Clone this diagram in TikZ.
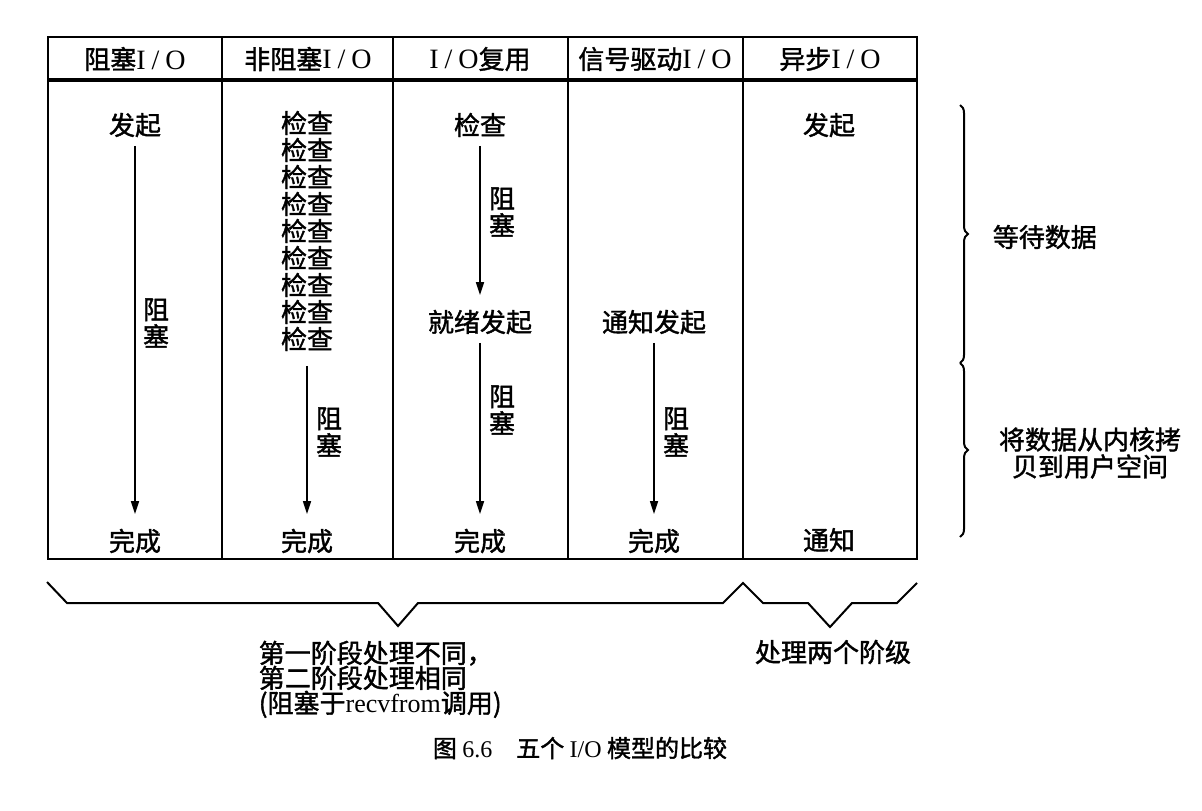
\documentclass[tikz,border=0pt]{standalone}
\usepackage{fontspec}
\setmainfont{Liberation Serif}
\newfontfamily\cjk{Noto Sans CJK SC}[FakeBold=1.5]
\usetikzlibrary{arrows.meta, decorations.pathreplacing}
\newcommand{\iox}{{\rmfamily\fontsize{14}{14}\selectfont I\hspace{3pt}/\hspace{3pt}O}}

\begin{document}
\begin{tikzpicture}[x=0.5pt, y=-0.5pt, >={Stealth[length=6.5pt, width=4pt, inset=0pt]}, line width=0.8pt,
    every node/.style={font=\cjk\fontsize{13}{13.5}\selectfont, inner sep=1pt, align=center},
    blk/.style={->, shorten <=3pt, shorten >=6pt}]
    \useasboundingbox (0,0) rectangle (1202,810);
    % 表格：外框、表头粗线、列分隔线
    \draw[line width=1pt] (48,37) rectangle (917,559);
    \draw[line width=2pt] (48,80) -- (917,80);
    \foreach \x in {222,393,568,743}
        \draw (\x,37) -- (\x,559);

    % 表头
    \node (h1) at (135,59) {阻塞\iox};
    \node (h2) at (308,59) {非阻塞\iox};
    \node (h3) at (480,59) {\iox 复用};
    \node (h4) at (655,59) {信号驱动\iox};
    \node (h5) at (830,59) {异步\iox};

    % 阻塞I/O
    \node (b1) at (135,125) {发起};
    \node (b2) at (135,541) {完成};
    \node (bz) at (156,323) {阻\\塞};
    \draw[blk] (b1) -- (b2);

    % 非阻塞I/O
    \node (n1) at (307,231) {检查\\检查\\检查\\检查\\检查\\检查\\检查\\检查\\检查};
    \node (n2) at (307,541) {完成};
    \node (nz) at (329,432) {阻\\塞};
    \draw[blk, shorten <=6pt] (n1) -- (n2);

    % I/O复用
    \node (m1) at (480,125) {检查};
    \node (m2) at (480,322) {就绪发起};
    \node (m3) at (480,541) {完成};
    \node (mz1) at (502,212) {阻\\塞};
    \node (mz2) at (502,410) {阻\\塞};
    \draw[blk] (m1) -- (m2);
    \draw[blk] (m2) -- (m3);

    % 信号驱动I/O
    \node (s1) at (654,322) {通知发起};
    \node (s2) at (654,541) {完成};
    \node (sz) at (676,432) {阻\\塞};
    \draw[blk] (s1) -- (s2);

    % 异步I/O
    \node (a1) at (829,125) {发起};
    \node (a2) at (829,540) {通知};

    % 右侧大括号
    \draw[line width=1pt, decorate, decoration={brace, amplitude=4pt}] (960,105) -- (960,363);
    \draw[line width=1pt, decorate, decoration={brace, amplitude=4pt}] (960,363) -- (960,537);
    \node[anchor=west] (r1) at (990,237) {等待数据};
    \node (r2) at (1090,453) {将数据从内核拷\\贝到用户空间};

    % 下方折线括号
    \draw[line width=1pt] (47,582) -- (67,603) -- (378,603) -- (398,626) -- (418,603) -- (723,603)
        -- (743,583) -- (763,603) -- (808,603) -- (830,627) -- (852,603) -- (897,603) -- (917,583);
    \node[anchor=north west, align=left, font=\cjk\fontsize{13}{12.5}\selectfont] (d1) at (256,638)
        {第一阶段处理不同，\\第二阶段处理相同\\(阻塞于{\rmfamily recvfrom}调用)};
    \node (d2) at (833,652) {处理两个阶级};

    % 图题
    \node[font=\cjk\fontsize{12}{13}\selectfont] (cap) at (580,748) {图 {\rmfamily 6.6}\quad 五个 {\rmfamily I/O} 模型的比较};
\end{tikzpicture}
\end{document}
